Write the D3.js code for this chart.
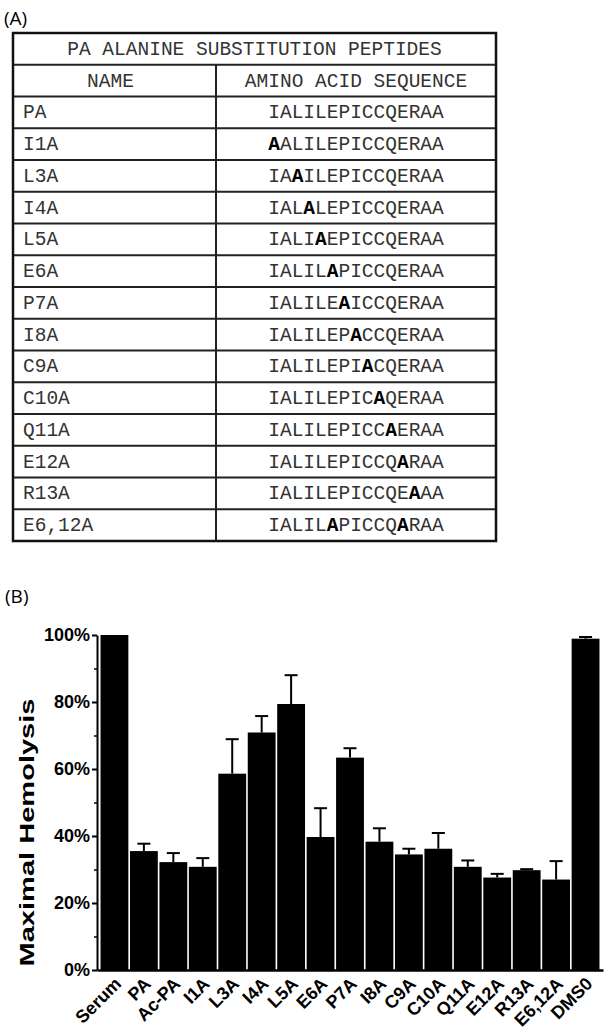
<!DOCTYPE html>
<html>
<head>
<meta charset="utf-8">
<script src="https://cdn.jsdelivr.net/npm/d3@7"></script>
<style>
  body { margin: 0; background: #fff; }
  svg { display: block; }
</style>
</head>
<body>
<svg id="fig" width="609" height="1035"></svg>
<script>
// table (A)
var tableTitle = "PA ALANINE SUBSTITUTION PEPTIDES";
var tableHeaders = ["NAME", "AMINO ACID SEQUENCE"];
var peptideNames = ["PA", "I1A", "L3A", "I4A", "L5A", "E6A", "P7A", "I8A",
                    "C9A", "C10A", "Q11A", "E12A", "R13A", "E6,12A"];
var peptideSeqs = ["IALILEPICCQERAA", "AALILEPICCQERAA", "IAAILEPICCQERAA",
                   "IALALEPICCQERAA", "IALIAEPICCQERAA", "IALILAPICCQERAA",
                   "IALILEAICCQERAA", "IALILEPACCQERAA", "IALILEPIACQERAA",
                   "IALILEPICAQERAA", "IALILEPICCAERAA", "IALILEPICCQARAA",
                   "IALILEPICCQEAAA", "IALILAPICCQARAA"];
// which residue positions are the alanine substitutions (bold)
var substituted = [[], [0], [2], [3], [4], [5], [6], [7], [8], [9], [10], [11], [12], [5, 11]];

// chart (B)
var groups = ["Serum", "PA", "Ac-PA", "I1A", "L3A", "I4A", "L5A", "E6A", "P7A",
              "I8A", "C9A", "C10A", "Q11A", "E12A", "R13A", "E6,12A", "DMS0"];
var hemolysis = [100, 35.5, 32.2, 30.8, 58.6, 70.9, 79.4, 39.7, 63.4,
                 38.3, 34.5, 36.2, 30.8, 27.6, 29.8, 27.0, 98.9];
var errors = [0, 2.2, 2.7, 2.6, 10.3, 4.9, 8.6, 8.6, 2.8,
              4.0, 1.7, 4.7, 1.9, 1.1, 0.3, 5.5, 0.5];
var yTicks = [0, 20, 40, 60, 80, 100];
var yMinorTicks = [10, 30, 50, 70, 90];

var svg = d3.select("#fig");
var mono = "'Liberation Mono', 'Courier New', monospace";
var sans = "'Liberation Sans', Arial, sans-serif";

function drawTable() {
  var left = 13, right = 496, split = 216;
  var rowLabels = ["title", "header"].concat(peptideNames);
  var rows = d3.scaleBand().domain(rowLabels).range([33, 541]);

  svg.append("text")
      .attr("x", 4).attr("y", 25)
      .style("font-family", "'Open Sans', " + sans)
      .style("font-size", "19px")
      .text("(A)");

  var g = svg.append("g");

  // horizontal rules
  g.selectAll(".hrule")
    .data(rowLabels.slice(1))
    .enter().append("line")
      .attr("x1", left).attr("x2", right)
      .attr("y1", function(d) { return rows(d); })
      .attr("y2", function(d) { return rows(d); })
      .style("stroke", "#222").style("stroke-width", 2);

  // column divider
  g.append("line")
      .attr("x1", split).attr("x2", split)
      .attr("y1", rows("header")).attr("y2", rows.range()[1])
      .style("stroke", "#222").style("stroke-width", 2);

  // outer border
  g.append("rect")
      .attr("x", left).attr("y", rows.range()[0])
      .attr("width", right - left).attr("height", rows.range()[1] - rows.range()[0])
      .style("fill", "none").style("stroke", "#111").style("stroke-width", 2.5);

  var txt = function(sel) {
    return sel.style("font-family", mono).style("font-size", "19.5px")
      .style("fill", "#333").attr("dominant-baseline", "central");
  };

  g.append("text").call(txt)
      .attr("x", (left + right) / 2).attr("y", rows("title") + rows.bandwidth() / 2 + 1)
      .attr("text-anchor", "middle")
      .text(tableTitle);

  g.selectAll(".head")
    .data(tableHeaders)
    .enter().append("text").call(txt)
      .attr("x", function(d, i) { return i == 0 ? (left + split) / 2 - 4 : (split + right) / 2; })
      .attr("y", rows("header") + rows.bandwidth() / 2 + 1)
      .attr("text-anchor", "middle")
      .text(function(d) { return d; });

  g.selectAll(".name")
    .data(peptideNames)
    .enter().append("text").call(txt)
      .attr("x", left + 10)
      .attr("y", function(d) { return rows(d) + rows.bandwidth() / 2 + 1; })
      .text(function(d) { return d; });

  var seq = g.selectAll(".seq")
    .data(peptideSeqs)
    .enter().append("text").call(txt)
      .attr("x", (split + right) / 2)
      .attr("y", function(d, i) { return rows(peptideNames[i]) + rows.bandwidth() / 2 + 1; })
      .attr("text-anchor", "middle");

  seq.each(function(s, i) {
    var t = d3.select(this);
    s.split("").forEach(function(ch, k) {
      var bold = substituted[i].indexOf(k) >= 0;
      t.append("tspan")
        .style("font-weight", bold ? "bold" : "normal")
        .style("fill", bold ? "#000" : "#333")
        .text(ch);
    });
  });
}

function drawChart() {
  var x = d3.scaleBand().domain(groups).range([97, 603])
      .paddingInner(0.055).paddingOuter(0.12);
  var y = d3.scaleLinear().domain([0, 100]).range([970, 635]);
  var axisX = 97;

  var data = groups.map(function(name, i) {
    return { name: name, value: hemolysis[i], err: errors[i] };
  });
  var mid = function(d) { return x(d.name) + x.bandwidth() / 2; };

  svg.append("text")
      .attr("x", 5).attr("y", 603)
      .style("font-family", "'Open Sans', " + sans)
      .style("font-size", "19px")
      .text("(B)");

  var g = svg.append("g");

  g.selectAll(".bar")
    .data(data)
    .enter().append("rect")
      .attr("x", function(d) { return x(d.name); })
      .attr("y", function(d) { return y(d.value); })
      .attr("width", x.bandwidth())
      .attr("height", function(d) { return y(0) - y(d.value); })
      .style("fill", "#000");

  // error bars (upper only)
  var eb = g.selectAll(".err")
    .data(data.filter(function(d) { return d.err > 0; }))
    .enter().append("g");

  eb.append("line")
      .attr("x1", mid).attr("x2", mid)
      .attr("y1", function(d) { return y(d.value); })
      .attr("y2", function(d) { return y(d.value + d.err); })
      .style("stroke", "#000").style("stroke-width", 2);

  eb.append("line")
      .attr("x1", function(d) { return mid(d) - 6.5; })
      .attr("x2", function(d) { return mid(d) + 6.5; })
      .attr("y1", function(d) { return y(d.value + d.err); })
      .attr("y2", function(d) { return y(d.value + d.err); })
      .style("stroke", "#000").style("stroke-width", 2);

  // y axis
  var yAxis = g.append("g")
      .attr("transform", "translate(" + axisX + ",0)")
      .call(d3.axisLeft(y).tickValues(yTicks).tickSize(5).tickSizeOuter(0)
            .tickFormat(function(d) { return d + "%"; }));
  yAxis.select(".domain").style("stroke-width", 2);
  yAxis.selectAll(".tick line").style("stroke-width", 2);
  yAxis.selectAll(".tick text")
      .attr("x", -7)
      .style("font-family", sans).style("font-weight", "bold").style("font-size", "18px");

  var yMinor = g.append("g")
      .attr("transform", "translate(" + axisX + ",0)")
      .call(d3.axisLeft(y).tickValues(yMinorTicks).tickSize(3).tickFormat(""));
  yMinor.select(".domain").remove();
  yMinor.selectAll(".tick line").style("stroke-width", 1.5);

  // x axis
  var xAxis = g.append("g")
      .attr("transform", "translate(0," + y(0) + ")")
      .call(d3.axisBottom(x).tickSize(0).tickSizeOuter(0));
  xAxis.select(".domain").style("stroke-width", 2.5);
  xAxis.selectAll(".tick text")
      .attr("y", 0).attr("x", 0).attr("dy", null)
      .attr("text-anchor", "end")
      .attr("transform", "translate(8,15) rotate(-45)")
      .style("font-family", sans).style("font-weight", "bold").style("font-size", "18px");

  svg.append("text")
      .attr("transform", "translate(33.5," + ((y(0) + y(100)) / 2 + 30) + ") rotate(-90)")
      .attr("text-anchor", "middle")
      .attr("textLength", 268)
      .attr("lengthAdjust", "spacingAndGlyphs")
      .style("font-family", sans).style("font-weight", "bold").style("font-size", "21px")
      .text("Maximal Hemolysis");
}

drawTable();
drawChart();
</script>
</body>
</html>
